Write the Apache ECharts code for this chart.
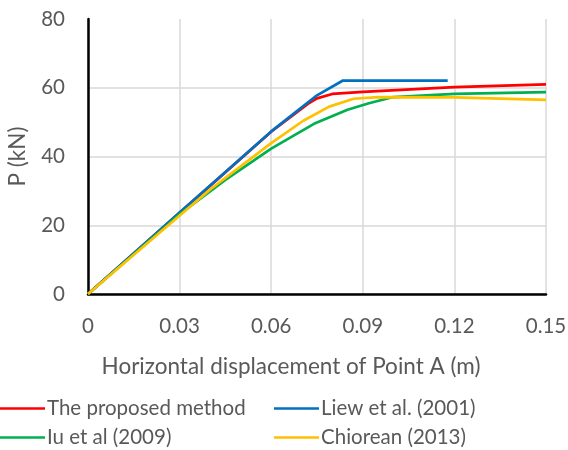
<!DOCTYPE html>
<html>
<head>
<meta charset="utf-8">
<script src="https://cdn.jsdelivr.net/npm/echarts@6/dist/echarts.min.js"></script>
<style>
  html, body { margin: 0; padding: 0; background: #fff; }
  #chart { width: 568px; height: 450px; }
</style>
</head>
<body>
<div id="chart"></div>
<script>
// data, [displacement (m), P (kN)]
const proposed = [[0, 0], [0.03, 23.6], [0.06, 47.2], [0.072, 55.3], [0.075, 56.9], [0.08, 58.2], [0.09, 58.8], [0.12, 60.2], [0.15, 61.0]];
const liew = [[0, 0], [0.03, 23.7], [0.06, 47.3], [0.075, 57.8], [0.0835, 62.1], [0.1178, 62.1]];
const iu = [[0, 0], [0.03, 23.2], [0.045, 33.2], [0.06, 42.3], [0.074, 49.5], [0.085, 53.6], [0.092, 55.5], [0.1, 57.3], [0.12, 58.2], [0.15, 58.7]];
const chiorean = [[0, 0], [0.04, 30.4], [0.06, 43.9], [0.0705, 50.4], [0.079, 54.5], [0.087, 56.8], [0.095, 57.3], [0.12, 57.2], [0.15, 56.5]];

const seriesNames = ["The proposed method", "Liew et al. (2001)", "Iu et al (2009)", "Chiorean (2013)"];
const seriesColors = ["#FF0000", "#0070C0", "#00B050", "#FFC000"];
const seriesData = [proposed, liew, iu, chiorean];

const font = "Lato";
const textColor = "#595959";

const legendCommon = {
  orient: "vertical",
  icon: "rect",
  itemWidth: 45,
  itemHeight: 2.5,
  itemGap: 8,
  top: 398,
  textStyle: { fontFamily: font, fontSize: 20.5, color: textColor, padding: [0, 0, 0, -3] },
  padding: 0,
};

const option = {
  animation: false,
  grid: { left: 88, right: 22, top: 19, bottom: 156, outerBoundsMode: "none" },
  legend: [
    Object.assign({}, legendCommon, { left: 0, data: [seriesNames[0], seriesNames[2]] }),
    Object.assign({}, legendCommon, { left: 274, data: [seriesNames[1], seriesNames[3]] }),
  ],
  xAxis: {
    type: "value",
    min: 0,
    max: 0.15,
    interval: 0.03,
    name: "Horizontal displacement of Point A (m)",
    nameLocation: "middle",
    nameGap: 61,
    nameTextStyle: { fontFamily: font, fontSize: 22.5, color: textColor, padding: [0, 52, 0, 0] },
    axisLine: { lineStyle: { color: "#000", width: 2.5 } },
    axisTick: { show: false },
    axisLabel: {
      fontFamily: font, fontSize: 20.5, color: textColor, margin: 22,
      formatter: (v) => (v === 0 ? "0" : v.toFixed(2)),
    },
    splitLine: { show: true, lineStyle: { color: "#D9D9D9", width: 1.5 } },
  },
  yAxis: {
    type: "value",
    min: 0,
    max: 80,
    interval: 20,
    name: "P (kN)",
    nameLocation: "middle",
    nameGap: 59,
    nameTextStyle: { fontFamily: font, fontSize: 22.5, color: textColor },
    axisLine: { show: true, lineStyle: { color: "#000", width: 2.5 } },
    axisTick: { show: false },
    axisLabel: { fontFamily: font, fontSize: 20.5, color: textColor, margin: 23 },
    splitLine: { show: true, showMaxLine: false, lineStyle: { color: "#D9D9D9", width: 1.5 } },
  },
  series: seriesData.map((d, i) => ({
    name: seriesNames[i],
    type: "line",
    data: d,
    showSymbol: false,
    symbol: "none",
    color: seriesColors[i],
    lineStyle: { width: 2.7, color: seriesColors[i] },
  })),
};

const chart = echarts.init(document.getElementById("chart"));
chart.setOption(option);
</script>
</body>
</html>
